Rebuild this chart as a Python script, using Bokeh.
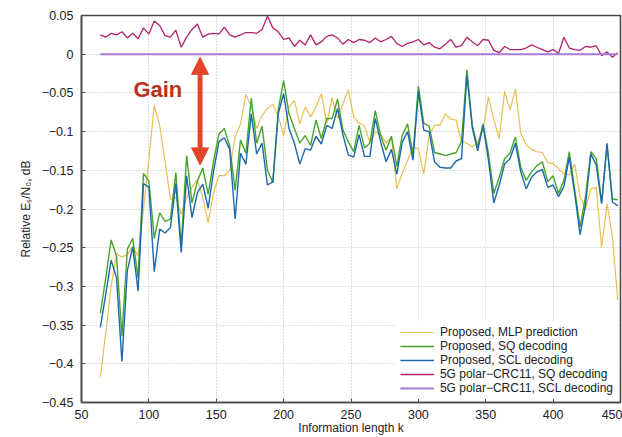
from bokeh.plotting import figure
from bokeh.models import (Range1d, Legend, LegendItem, Label, Arrow, NormalHead,
                          FixedTicker, CustomJSTickFormatter)
from bokeh.embed import file_html
from bokeh.resources import INLINE

# ---------------- data ----------------
k_values = [
    64, 68, 72, 76, 80, 84, 88, 92, 96, 100,
    104, 108, 112, 116, 120, 124, 128, 132, 136, 140,
    144, 148, 152, 156, 160, 164, 168, 172, 176, 180,
    184, 188, 192, 196, 200, 204, 208, 212, 216, 220,
    224, 228, 232, 236, 240, 244, 248, 252, 256, 260,
    264, 268, 272, 276, 280, 284, 288, 292, 296, 300,
    304, 308, 312, 316, 320, 324, 328, 332, 336, 340,
    344, 348, 352, 356, 360, 364, 368, 372, 376, 380,
    384, 388, 392, 396, 400, 404, 408, 412, 416, 420,
    424, 428, 432, 436, 440, 444, 448,
]

mlp_prediction = [
    -0.417, -0.360, -0.300, -0.258, -0.262, -0.259, -0.248, -0.261, -0.200, -0.136,
    -0.066, -0.092, -0.138, -0.188, -0.185, -0.207, -0.185, -0.172, -0.162, -0.185,
    -0.218, -0.179, -0.157, -0.157, -0.150, -0.107, -0.090, -0.052, -0.068, -0.096,
    -0.079, -0.070, -0.065, -0.080, -0.105, -0.068, -0.060, -0.090, -0.068, -0.081,
    -0.068, -0.051, -0.090, -0.056, -0.083, -0.064, -0.046, -0.081, -0.089, -0.093,
    -0.114, -0.100, -0.103, -0.115, -0.107, -0.174, -0.154, -0.137, -0.120, -0.122,
    -0.155, -0.105, -0.092, -0.092, -0.077, -0.084, -0.085, -0.113, -0.115, -0.120,
    -0.113, -0.098, -0.055, -0.085, -0.109, -0.048, -0.072, -0.045, -0.102, -0.117,
    -0.123, -0.126, -0.127, -0.140, -0.141, -0.148, -0.154, -0.156, -0.142, -0.184,
    -0.200, -0.174, -0.172, -0.250, -0.193, -0.236, -0.318,
]

sq_decoding = [
    -0.335, -0.289, -0.240, -0.261, -0.364, -0.252, -0.238, -0.289, -0.154, -0.164,
    -0.238, -0.205, -0.216, -0.213, -0.153, -0.248, -0.131, -0.192, -0.164, -0.147,
    -0.181, -0.138, -0.103, -0.096, -0.119, -0.176, -0.111, -0.128, -0.057, -0.115,
    -0.093, -0.150, -0.166, -0.072, -0.034, -0.077, -0.096, -0.115, -0.105, -0.118,
    -0.085, -0.109, -0.083, -0.083, -0.058, -0.098, -0.113, -0.126, -0.092, -0.121,
    -0.115, -0.073, -0.105, -0.124, -0.106, -0.145, -0.105, -0.090, -0.130, -0.041,
    -0.089, -0.093, -0.127, -0.129, -0.131, -0.129, -0.127, -0.113, -0.020, -0.092,
    -0.120, -0.090, -0.128, -0.180, -0.159, -0.135, -0.128, -0.107, -0.146, -0.163,
    -0.152, -0.144, -0.139, -0.165, -0.157, -0.180, -0.163, -0.126, -0.175, -0.223,
    -0.184, -0.126, -0.135, -0.192, -0.118, -0.187, -0.188,
]

scl_decoding = [
    -0.353, -0.310, -0.266, -0.289, -0.397, -0.280, -0.249, -0.306, -0.167, -0.172,
    -0.281, -0.226, -0.231, -0.224, -0.167, -0.256, -0.157, -0.211, -0.179, -0.168,
    -0.199, -0.151, -0.113, -0.108, -0.123, -0.213, -0.128, -0.142, -0.077, -0.129,
    -0.115, -0.169, -0.165, -0.077, -0.051, -0.096, -0.115, -0.142, -0.122, -0.124,
    -0.106, -0.116, -0.092, -0.096, -0.070, -0.104, -0.130, -0.133, -0.104, -0.132,
    -0.132, -0.083, -0.113, -0.139, -0.123, -0.155, -0.114, -0.100, -0.137, -0.048,
    -0.098, -0.100, -0.139, -0.146, -0.147, -0.147, -0.138, -0.135, -0.027, -0.095,
    -0.125, -0.092, -0.137, -0.192, -0.169, -0.142, -0.135, -0.115, -0.152, -0.174,
    -0.159, -0.152, -0.149, -0.172, -0.169, -0.184, -0.171, -0.133, -0.180, -0.233,
    -0.195, -0.129, -0.143, -0.193, -0.115, -0.191, -0.196,
]

polar5g_sq = [
    0.025, 0.022, 0.027, 0.025, 0.029, 0.021, 0.027, 0.020, 0.034, 0.026,
    0.043, 0.037, 0.024, 0.022, 0.031, 0.009, 0.022, 0.032, 0.039, 0.022,
    0.026, 0.027, 0.026, 0.035, 0.025, 0.022, 0.025, 0.028, 0.028, 0.027,
    0.032, 0.049, 0.034, 0.029, 0.019, 0.021, 0.010, 0.018, 0.012, 0.025,
    0.012, 0.016, 0.023, 0.025, 0.021, 0.013, 0.019, 0.015, 0.019, 0.018,
    0.015, 0.021, 0.016, 0.019, 0.023, 0.014, 0.010, 0.014, 0.016, 0.019,
    0.012, 0.015, 0.009, 0.007, 0.013, 0.019, 0.009, 0.011, 0.022, 0.016,
    0.011, 0.019, 0.018, 0.005, 0.002, 0.010, 0.006, 0.006, 0.006, 0.008,
    0.012, 0.009, 0.006, 0.003, 0.006, 0.001, 0.022, 0.008, 0.006, 0.005,
    0.010, 0.009, 0.011, -0.002, 0.003, -0.004, 0.002,
]

polar5g_scl = [
    0.0, 0.0, 0.0, 0.0, 0.0, 0.0, 0.0, 0.0, 0.0, 0.0,
    0.0, 0.0, 0.0, 0.0, 0.0, 0.0, 0.0, 0.0, 0.0, 0.0,
    0.0, 0.0, 0.0, 0.0, 0.0, 0.0, 0.0, 0.0, 0.0, 0.0,
    0.0, 0.0, 0.0, 0.0, 0.0, 0.0, 0.0, 0.0, 0.0, 0.0,
    0.0, 0.0, 0.0, 0.0, 0.0, 0.0, 0.0, 0.0, 0.0, 0.0,
    0.0, 0.0, 0.0, 0.0, 0.0, 0.0, 0.0, 0.0, 0.0, 0.0,
    0.0, 0.0, 0.0, 0.0, 0.0, 0.0, 0.0, 0.0, 0.0, 0.0,
    0.0, 0.0, 0.0, 0.0, 0.0, 0.0, 0.0, 0.0, 0.0, 0.0,
    0.0, 0.0, 0.0, 0.0, 0.0, 0.0, 0.0, 0.0, 0.0, 0.0,
    0.0, 0.0, 0.0, 0.0, 0.0, 0.0, 0.0,
]

series_labels = [
    "Proposed, MLP prediction",
    "Proposed, SQ decoding",
    "Proposed, SCL decoding",
    "5G polar\u2212CRC11, SQ decoding",
    "5G polar\u2212CRC11, SCL decoding",
]

x_ticks = [50, 100, 150, 200, 250, 300, 350, 400, 450]
y_ticks = [-0.45, -0.4, -0.35, -0.3, -0.25, -0.2, -0.15, -0.1, -0.05, 0.0, 0.05]

# ---------------- styling ----------------
FONT = "Liberation Sans"
FRAME = "#4a4a4a"
C_MLP = "#e8bf55"
C_SQ = "#46a52c"
C_SCL = "#1c68ad"
C_5GSQ = "#b3236b"
C_5GSCL = "#a57bd3"
C_ARROW = "#e4462b"
C_GAIN = "#b7321e"

p = figure(width=622, height=437, output_backend="svg", toolbar_location=None,
           x_range=Range1d(50, 450), y_range=Range1d(-0.45, 0.05),
           min_border_left=81, min_border_right=2, min_border_top=15,
           min_border_bottom=35)
p.background_fill_color = "white"
p.border_fill_color = "white"
p.outline_line_color = FRAME
p.outline_line_width = 1.6

p.xaxis.ticker = FixedTicker(ticks=x_ticks)
p.yaxis.ticker = FixedTicker(ticks=y_ticks)
p.yaxis.formatter = CustomJSTickFormatter(code="""
    if (Math.abs(tick) < 1e-9) { return "0"; }
    let s = Math.abs(tick).toFixed(2);
    if (s.endsWith("0")) { s = s.slice(0, -1); }
    return (tick < 0 ? "\\u2212" : "") + s;
""")

for ax in list(p.xaxis) + list(p.yaxis):
    ax.major_tick_in = 4
    ax.major_tick_out = 0
    ax.major_tick_line_color = FRAME
    ax.minor_tick_line_color = None
    ax.axis_line_color = FRAME
    ax.axis_line_width = 1.6
    ax.major_label_text_font = FONT
    ax.major_label_text_font_size = "12.5px"
    ax.major_label_text_color = "#222222"
    ax.axis_label_text_font = FONT
    ax.axis_label_text_font_size = "12px"
    ax.axis_label_text_font_style = "normal"
    ax.axis_label_text_color = "#222222"

p.xaxis.axis_label = "Information length k"
p.yaxis.axis_label = "Relative E\u209b/N\u2080, dB"
p.xaxis.major_label_standoff = 7
p.xaxis.axis_label_standoff = -1
p.yaxis.major_label_standoff = 8
p.yaxis.axis_label_standoff = 6

p.grid.grid_line_color = "#bdbdbd"
p.grid.grid_line_dash = "1 2"
p.grid.grid_line_width = 1

# ---------------- data lines ----------------
r_mlp = p.line(k_values, mlp_prediction, line_color=C_MLP, line_width=1.2)
r_sq = p.line(k_values, sq_decoding, line_color=C_SQ, line_width=1.4)
r_scl = p.line(k_values, scl_decoding, line_color=C_SCL, line_width=1.4)
r_5gsq = p.line(k_values, polar5g_sq, line_color=C_5GSQ, line_width=1.3)
r_5gscl = p.line(k_values, polar5g_scl, line_color=C_5GSCL, line_width=2)

legend = Legend(items=[
    LegendItem(label=series_labels[0], renderers=[r_mlp]),
    LegendItem(label=series_labels[1], renderers=[r_sq]),
    LegendItem(label=series_labels[2], renderers=[r_scl]),
    LegendItem(label=series_labels[3], renderers=[r_5gsq]),
    LegendItem(label=series_labels[4], renderers=[r_5gscl]),
], location="bottom_right", label_text_font=FONT, label_text_font_size="12px",
   label_text_color="#222222", glyph_width=34, glyph_height=12, label_height=12,
   spacing=0, padding=4, margin=3, label_standoff=6,
   border_line_alpha=0, background_fill_color="white", background_fill_alpha=1)
p.add_layout(legend)

# ---------------- annotation ----------------
p.add_layout(Label(x=88.5, y=-0.045, text="Gain", text_font=FONT,
                   text_font_style="bold", text_font_size="22px",
                   text_color=C_GAIN, text_baseline="middle", text_align="left"))
p.add_layout(Arrow(start=NormalHead(size=17, fill_color=C_ARROW, line_color=C_ARROW),
                   end=NormalHead(size=17, fill_color=C_ARROW, line_color=C_ARROW),
                   x_start=138, y_start=-0.143, x_end=138, y_end=-0.004,
                   line_color=C_ARROW, line_width=5))

open("out.html", "w").write(file_html(p, INLINE))
